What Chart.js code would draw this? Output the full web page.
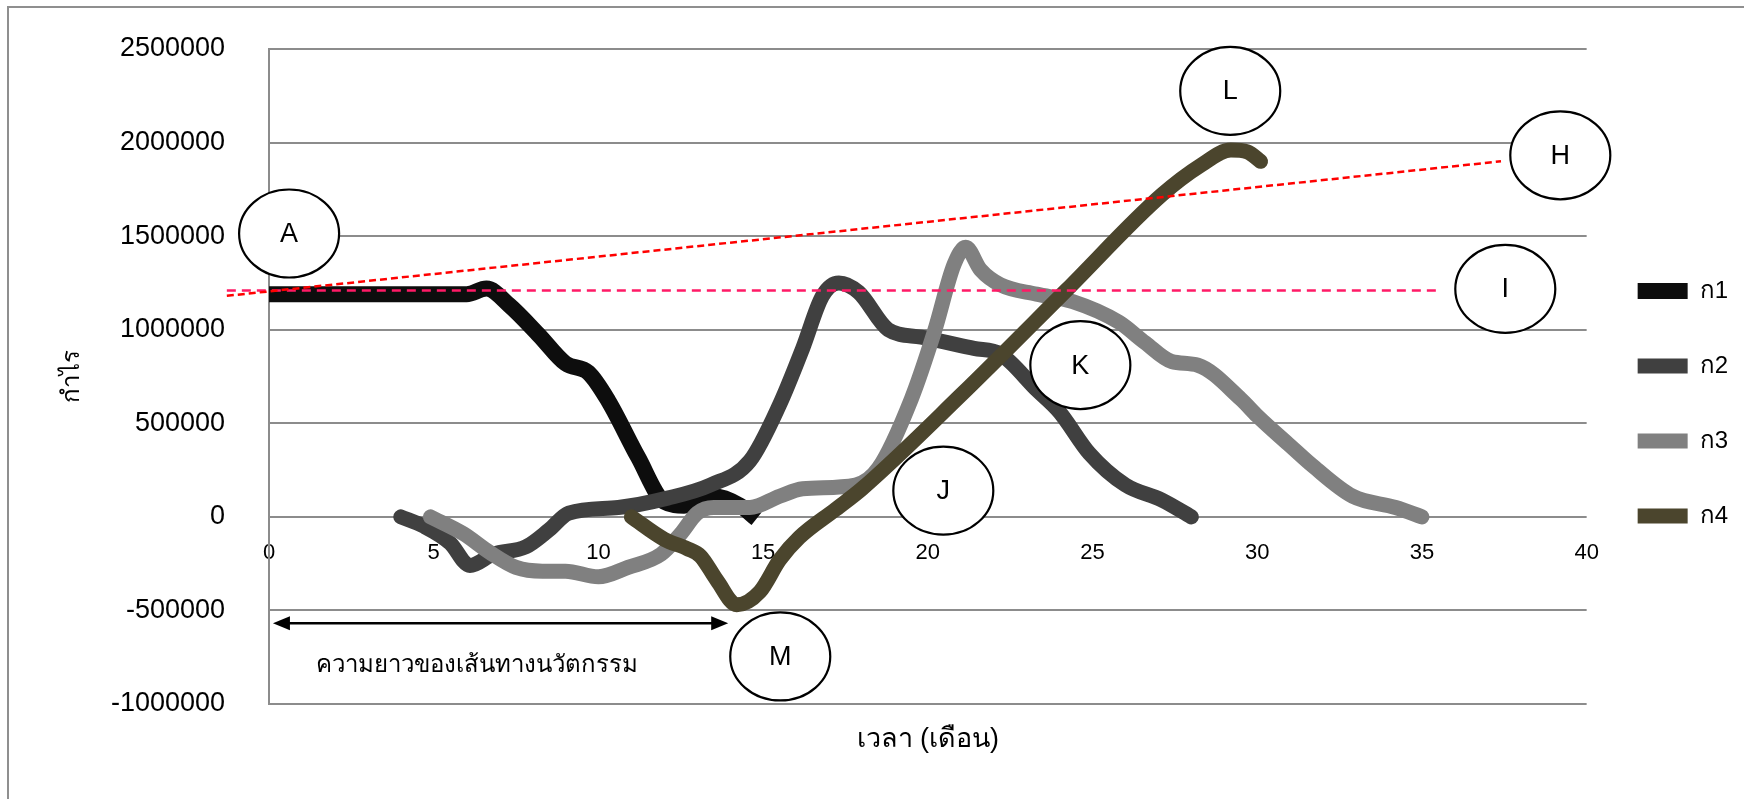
<!DOCTYPE html>
<html>
<head>
<meta charset="utf-8">
<script src="https://cdn.jsdelivr.net/npm/chart.js@4.4.0/dist/chart.umd.min.js"></script>
<style>
  html, body { margin: 0; padding: 0; background: #fff; }
  #wrap { position: relative; width: 1744px; height: 799px; overflow: hidden; }
  #frame { position: absolute; left: 7px; top: 6px; width: 1800px; height: 900px;
           border-left: 2px solid #8f8f8f; border-top: 2px solid #8f8f8f; }
  canvas { position: absolute; left: 0; top: 0; }
</style>
</head>
<body>
<div id="wrap">
  <div id="frame"></div>
  <canvas id="chart" width="1744" height="799"></canvas>
</div>
<script>
// series (x = month, y = profit)
const seriesNames = ["ก1", "ก2", "ก3", "ก4"];
const seriesColors = ["#0d0d0d", "#404040", "#808080", "#4b452d"];

const s1X = [0, 6, 6.6, 7.3, 8.2, 9.0, 9.7, 10.3, 11.2, 12.0, 12.6, 13.5, 14.3, 14.8];
const s1Y = [1190000, 1190000, 1220000, 1130000, 970000, 820000, 770000, 620000, 320000, 80000, 60000, 110000, 60000, -10000];

const s2X = [4, 4.7, 5.5, 6.1, 6.8, 7.8, 8.5, 9.1, 10.6, 12.1, 13.4, 14.6, 15.5, 16.2, 16.8, 17.3, 17.9, 18.8, 19.8, 21.4, 22.2, 23.3, 24.0, 24.9, 26.0, 27.1, 28.0];
const s2Y = [0, -50000, -140000, -260000, -200000, -160000, -70000, 20000, 50000, 100000, 170000, 300000, 600000, 900000, 1180000, 1250000, 1200000, 1000000, 960000, 900000, 870000, 680000, 560000, 340000, 170000, 90000, 0];

const s3X = [4.9, 5.9, 6.7, 7.5, 8.3, 9.0, 10.0, 10.9, 11.9, 12.5, 13.0, 13.5, 14.6, 15.5, 16.2, 17.8, 18.5, 19.5, 20.2, 20.8, 21.15, 21.6, 22.2, 23.3, 24.4, 25.8, 26.6, 27.4, 28.2, 29.5, 30.0, 31.0, 31.7, 32.9, 34.2, 35.0];
const s3Y = [0, -90000, -190000, -270000, -290000, -290000, -320000, -270000, -200000, -90000, 20000, 50000, 50000, 110000, 150000, 170000, 260000, 630000, 990000, 1350000, 1440000, 1320000, 1240000, 1190000, 1150000, 1040000, 930000, 830000, 810000, 630000, 540000, 380000, 270000, 110000, 50000, 0];

const s4X = [11, 12, 12.7, 13.1, 13.6, 14.2, 14.9, 15.5, 16.1, 17.2, 18.0, 21.0, 24.2, 27.1, 28.3, 29.2, 29.7, 30.1];
const s4Y = [0, -120000, -170000, -210000, -340000, -470000, -400000, -230000, -110000, 40000, 150000, 650000, 1210000, 1720000, 1880000, 1960000, 1950000, 1900000];

// reference lines
const trendX = [-1.28, 37.4];
const trendY = [1181000, 1900000];
const levelX = [-1.28, 35.5];
const levelY = [1210000, 1210000];

// axis ticks
const xMin = 0, xMax = 40, xStep = 5;
const yMin = -1000000, yMax = 2500000, yStep = 500000;

// text labels
const xTitle = "เวลา (เดือน)";
const yTitle = "กำไร";
const markerLabels = ["A", "L", "H", "I", "K", "J", "M"];
const markerX = [0.61, 29.18, 39.2, 37.53, 24.63, 20.47, 15.52];
const markerY = [1514000, 2276000, 1932000, 1218000, 811000, 140000, -746000];
const spanX = [0.12, 13.94];
const spanY = -569000;
const spanText = "ความยาวของเส้นทางนวัตกรรม";
const spanTextX = 6.32;
const spanTextY = -794000;

const thaiFont = "'Liberation Sans', 'Noto Sans', 'DejaVu Sans', sans-serif";
Chart.defaults.font.family = thaiFont;
Chart.defaults.color = "#000";

const zip = (xs, ys) => xs.map((x, i) => ({ x: x, y: ys[i] }));

const annotations = {
  id: "annotations",
  afterDatasetsDraw(chart) {
    const { ctx, scales: { x, y } } = chart;
    ctx.save();
    // double arrow
    const ax0 = x.getPixelForValue(spanX[0]);
    const ax1 = x.getPixelForValue(spanX[1]);
    const ay = y.getPixelForValue(spanY);
    ctx.strokeStyle = "#000";
    ctx.fillStyle = "#000";
    ctx.lineWidth = 2.5;
    ctx.beginPath();
    ctx.moveTo(ax0 + 10, ay);
    ctx.lineTo(ax1 - 10, ay);
    ctx.stroke();
    ctx.beginPath();
    ctx.moveTo(ax0, ay); ctx.lineTo(ax0 + 17, ay - 7); ctx.lineTo(ax0 + 17, ay + 7);
    ctx.closePath(); ctx.fill();
    ctx.beginPath();
    ctx.moveTo(ax1, ay); ctx.lineTo(ax1 - 17, ay - 7); ctx.lineTo(ax1 - 17, ay + 7);
    ctx.closePath(); ctx.fill();

    ctx.textAlign = "center";
    ctx.textBaseline = "middle";
    ctx.font = "24px " + thaiFont;
    ctx.fillText(spanText, x.getPixelForValue(spanTextX), y.getPixelForValue(spanTextY));

    // circled letters
    markerLabels.forEach((lab, i) => {
      const cx = x.getPixelForValue(markerX[i]);
      const cy = y.getPixelForValue(markerY[i]);
      ctx.beginPath();
      ctx.ellipse(cx, cy, 50, 44, 0, 0, Math.PI * 2);
      ctx.fillStyle = "#fff";
      ctx.fill();
      ctx.lineWidth = 2.2;
      ctx.strokeStyle = "#000";
      ctx.stroke();
      ctx.fillStyle = "#000";
      ctx.font = "27px 'Liberation Sans', Arial, sans-serif";
      ctx.fillText(lab, cx, cy + 1);
    });
    ctx.restore();
  }
};

const seriesX = [s1X, s2X, s3X, s4X];
const seriesY = [s1Y, s2Y, s3Y, s4Y];

const datasets = seriesNames.map((name, i) => ({
  label: name,
  data: zip(seriesX[i], seriesY[i]),
  borderColor: seriesColors[i],
  backgroundColor: seriesColors[i],
  borderWidth: i === 0 ? 16 : 15,
  borderCapStyle: i === 0 ? "butt" : "round",
  borderJoinStyle: "round",
  cubicInterpolationMode: "monotone",
  pointRadius: 0,
  order: 4 - i
}));

datasets.push({
  label: "trend",
  data: zip(trendX, trendY),
  borderColor: "#ff0000",
  borderWidth: 2.5,
  borderDash: [7, 4],
  pointRadius: 0,
  clip: false,
  order: 0
});
datasets.push({
  label: "level",
  data: zip(levelX, levelY),
  borderColor: "#ff1a66",
  borderWidth: 2.5,
  borderDash: [9, 6],
  pointRadius: 0,
  clip: false,
  order: 0
});

new Chart(document.getElementById("chart"), {
  type: "line",
  data: { datasets: datasets },
  plugins: [annotations],
  options: {
    responsive: false,
    animation: false,
    devicePixelRatio: 1,
    layout: { padding: { top: 49, right: 6, bottom: 95, left: 0 } },
    plugins: {
      tooltip: { enabled: false },
      legend: {
        position: "right",
        fullSize: false,
        maxWidth: 157,
        title: { display: true, text: " ", padding: 15, font: { size: 20 } },
        labels: {
          usePointStyle: true,
          pointStyle: "line",
          pointStyleWidth: 50,
          padding: 51,
          color: "#000",
          font: { size: 24 },
          filter: (item) => item.datasetIndex < 4,
          sort: (a, b) => a.datasetIndex - b.datasetIndex
        }
      }
    },
    scales: {
      x: {
        type: "linear",
        position: { y: 0 },
        min: xMin,
        max: xMax,
        afterFit: (scale) => { scale.height = 95; },
        grid: { display: false, drawTicks: false },
        border: { display: false },
        ticks: { stepSize: xStep, padding: 23, color: "#000", font: { size: 22 } },
        title: {
          display: true,
          text: xTitle,
          color: "#000",
          font: { size: 27 },
          padding: { top: 0, bottom: -143.6 }
        }
      },
      y: {
        type: "linear",
        min: yMin,
        max: yMax,
        afterFit: (scale) => { scale.width = 269; },
        grid: { color: "#8c8c8c", lineWidth: 2, drawTicks: true, tickLength: 44, tickColor: "rgba(0,0,0,0)" },
        border: { display: true, color: "#8c8c8c", width: 2 },
        ticks: {
          stepSize: yStep,
          padding: 0,
          color: "#000",
          font: { size: 27 },
          callback: (v) => String(v)
        },
        title: {
          display: true,
          text: yTitle,
          color: "#000",
          font: { size: 24 },
          padding: { top: 58, bottom: 0 }
        }
      }
    }
  }
});
</script>
</body>
</html>
